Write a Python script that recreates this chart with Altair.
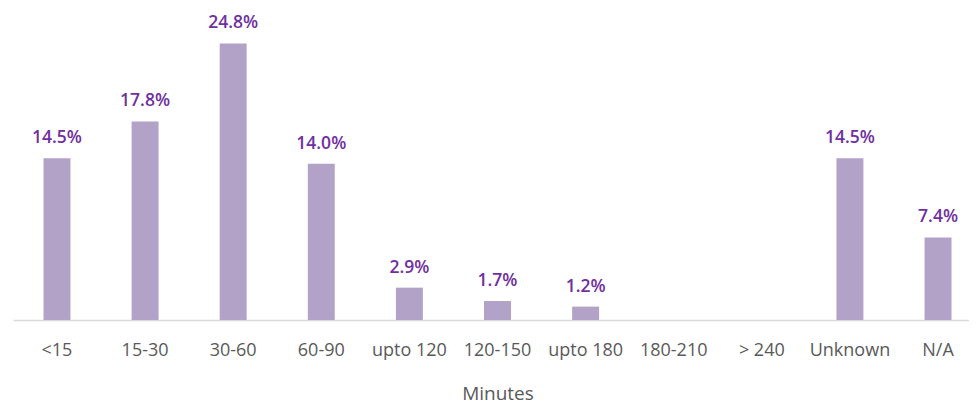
import altair as alt
import pandas as pd

categories = ["<15", "15-30", "30-60", "60-90", "upto 120", "120-150",
              "upto 180", "180-210", "> 240", "Unknown", "N/A"]
values = [14.5, 17.8, 24.8, 14.0, 2.9, 1.7, 1.2, None, None, 14.5, 7.4]

df = pd.DataFrame({"cat": categories, "value": values})

FONT = "Open Sans"

x_enc = alt.X(
    "cat:N",
    sort=categories,
    title="Minutes",
    scale=alt.Scale(range=[0, 969], paddingInner=0.694, paddingOuter=0.346),
    axis=alt.Axis(
        labelAngle=0,
        labelFont=FONT,
        labelFontSize=18,
        labelColor="#595959",
        labelBaseline="alphabetic",
        labelPadding=35,
        ticks=False,
        tickSize=0,
        domainColor="#D9D9D9",
        domainWidth=1.5,
        titleFont=FONT,
        titleFontSize=19,
        titleFontWeight="normal",
        titleColor="#595959",
        titleBaseline="alphabetic",
        titleY=79,
        labelOverlap=False,
    ),
)

y_enc = alt.Y(
    "value:Q",
    scale=alt.Scale(domain=[0, 26], nice=False, zero=True),
    axis=None,
)

bars = alt.Chart(df).mark_bar(color="#B3A2C7").encode(x=x_enc, y=y_enc)

labels = (
    alt.Chart(df)
    .transform_filter("datum.value != null")
    .transform_calculate(label="format(datum.value, '.1f') + '%'")
    .mark_text(
        font=FONT,
        fontSize=17.5,
        fontWeight=600,
        color="#7030A0",
        baseline="alphabetic",
        dy=-15,
    )
    .encode(x=alt.X("cat:N", sort=categories), y="value:Q", text="label:N")
)

chart = (
    alt.layer(bars, labels)
    .properties(
        width=956,
        height=290,
        autosize=alt.AutoSizeParams(type="none"),
        padding={"left": 5, "top": 22, "right": 0, "bottom": 84},
        background="white",
    )
    .configure_view(stroke="transparent", strokeWidth=0)
)

chart.save("out.html", embed_options={"renderer": "svg", "actions": False})
